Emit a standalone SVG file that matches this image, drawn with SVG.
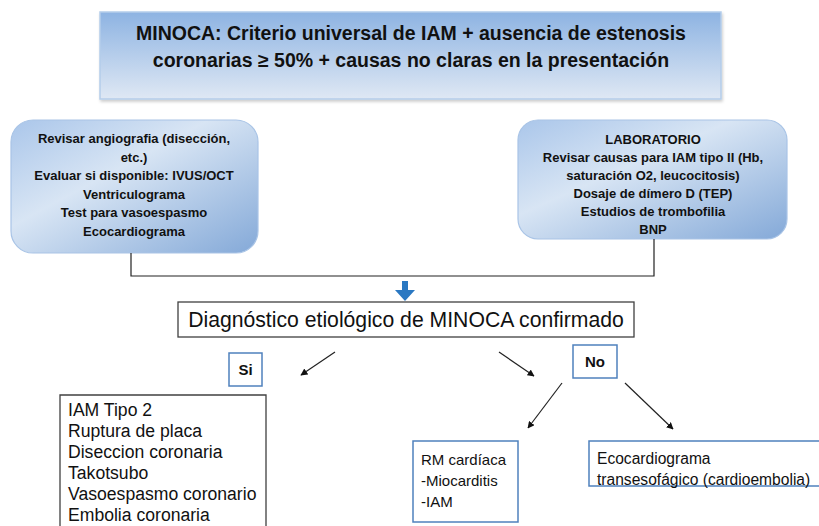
<svg xmlns="http://www.w3.org/2000/svg" width="819" height="526" viewBox="0 0 819 526">
<defs>
<linearGradient id="gTop" x1="0" y1="0" x2="0" y2="1">
<stop offset="0" stop-color="#8db3e2"/>
<stop offset="1" stop-color="#dfe8f4"/>
</linearGradient>
<linearGradient id="gSide" x1="0" y1="0" x2="1" y2="1">
<stop offset="0" stop-color="#aac6ea"/>
<stop offset="0.4" stop-color="#d8e5f4"/>
<stop offset="1" stop-color="#84a9d8"/>
</linearGradient>
<filter id="sh" x="-5%" y="-5%" width="110%" height="115%">
<feDropShadow dx="1" dy="2" stdDeviation="1.5" flood-color="#000" flood-opacity="0.2"/>
</filter>
<marker id="ah" viewBox="0 0 10 10" refX="9" refY="5" markerWidth="7" markerHeight="7" orient="auto" markerUnits="userSpaceOnUse">
<path d="M0,0 L10,5 L0,10 z" fill="#111"/>
</marker>
</defs>
<style>
.b{font-family:"Liberation Sans",Arial,sans-serif;font-weight:bold;fill:#111;text-anchor:middle}
.r{font-family:"Liberation Sans",Arial,sans-serif;fill:#111}
.bl{fill:#fff;stroke:#4f81bd;stroke-width:1.5}
.gr{fill:#fff;stroke:#404040;stroke-width:1.3}
.ln{stroke:#222;stroke-width:1.2;fill:none}
</style>
<g id="top">
<rect x="100" y="12" width="621" height="87" fill="url(#gTop)" stroke="#b4cdea" stroke-width="1.5" filter="url(#sh)"/>
<text class="b" x="411" y="40" font-size="19.5">MINOCA: Criterio universal de IAM + ausencia de estenosis</text>
<text class="b" x="411" y="67" font-size="19.5">coronarias ≥ 50% + causas no claras en la presentación</text>
</g>
<g id="left">
<rect x="11" y="120" width="247" height="133" rx="22" fill="url(#gSide)" stroke="#a9c4e6" stroke-width="1.2"/>
<g class="b" font-size="13">
<text x="134" y="143">Revisar angiografia (disección,</text>
<text x="134" y="162">etc.)</text>
<text x="134" y="180">Evaluar si disponible: IVUS/OCT</text>
<text x="134" y="199">Ventriculograma</text>
<text x="134" y="217">Test para vasoespasmo</text>
<text x="134" y="236">Ecocardiograma</text>
</g>
</g>
<g id="right">
<rect x="518" y="120" width="269" height="119" rx="20" fill="url(#gSide)" stroke="#a9c4e6" stroke-width="1.2"/>
<g class="b" font-size="13">
<text x="653" y="144">LABORATORIO</text>
<text x="653" y="162">Revisar causas para IAM tipo II (Hb,</text>
<text x="653" y="180">saturación O2, leucocitosis)</text>
<text x="653" y="198">Dosaje de dímero D (TEP)</text>
<text x="653" y="216">Estudios de trombofilia</text>
<text x="653" y="234">BNP</text>
</g>
</g>
<g id="diag">
<rect class="gr" x="178" y="302" width="456" height="35"/>
<text class="r" x="406" y="327" font-size="21.2" text-anchor="middle">Diagnóstico etiológico de MINOCA confirmado</text>
</g>
<g id="si">
<rect class="bl" x="229" y="353" width="33" height="33"/>
<text class="b" x="245.5" y="375" font-size="15">Si</text>
</g>
<g id="no">
<rect class="bl" x="573" y="345" width="44" height="33"/>
<text class="b" x="595" y="367" font-size="15">No</text>
</g>
<g id="list">
<path class="gr" d="M60,527 V395 H266 V527"/>
<g class="r" font-size="17.6">
<text x="68" y="416">IAM Tipo 2</text>
<text x="68" y="437">Ruptura de placa</text>
<text x="68" y="458">Diseccion coronaria</text>
<text x="68" y="479">Takotsubo</text>
<text x="68" y="500">Vasoespasmo coronario</text>
<text x="68" y="521">Embolia coronaria</text>
</g>
</g>
<g id="rm">
<rect class="bl" x="413" y="441" width="105" height="81"/>
<g class="r" font-size="15">
<text x="421" y="465">RM cardíaca</text>
<text x="421" y="486">-Miocarditis</text>
<text x="421" y="507">-IAM</text>
</g>
</g>
<g id="eco">
<rect class="bl" x="589" y="441" width="240" height="45"/>
<g class="r" font-size="15.6">
<text x="597" y="464">Ecocardiograma</text>
<text x="597" y="485">transesofágico (cardioembolia)</text>
</g>
</g>
<g id="connectors">
<path class="ln" d="M131,253 V276 H654 V239"/>
<path d="M402,281 H408 V290 H415 L405,301 L395,290 H402 Z" fill="#2a78c2"/>
<line class="ln" x1="335" y1="352" x2="301" y2="375" marker-end="url(#ah)"/>
<line class="ln" x1="499" y1="352" x2="534" y2="376" marker-end="url(#ah)"/>
<line class="ln" x1="562" y1="383" x2="528" y2="428" marker-end="url(#ah)"/>
<line class="ln" x1="625" y1="383" x2="673" y2="429" marker-end="url(#ah)"/>
</g>
</svg>
